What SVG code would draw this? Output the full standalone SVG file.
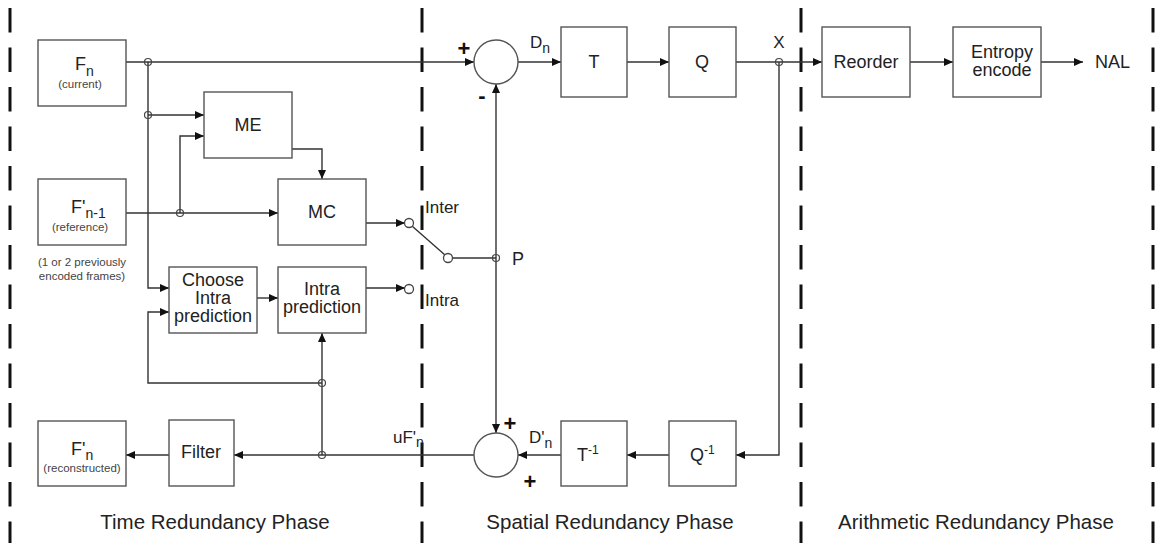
<svg xmlns="http://www.w3.org/2000/svg" width="1155" height="543" viewBox="0 0 1155 543">
<style>
text{font-family:"Liberation Sans",Arial,sans-serif;fill:#222}
.box{fill:#fff;stroke:#555;stroke-width:1.4}
.lbl{font-size:18px;text-anchor:middle}
.sm{font-size:11.5px;fill:#444;text-anchor:middle}
.sub{font-size:14px}
.ph{font-size:20.5px;text-anchor:middle}
.ln{fill:none;stroke:#333;stroke-width:1.4}
.ar{marker-end:url(#ah)}
.jn{fill:none;stroke:#444;stroke-width:1.2}
.sw{fill:#fff;stroke:#444;stroke-width:1.3}
.dash{stroke:#111;stroke-width:3;stroke-dasharray:24.5 15}
.sign{font-size:22px;font-weight:bold;fill:#111;text-anchor:middle}
</style>
<defs>
<marker id="ah" markerUnits="userSpaceOnUse" viewBox="0 0 9 8" markerWidth="9" markerHeight="8" refX="9" refY="4" orient="auto">
<path d="M0,0 L9,4 L0,8 z" fill="#111"/>
</marker>
</defs>
<rect width="1155" height="543" fill="#fff"/>
<g id="phases">
<line class="dash" x1="10" y1="8" x2="10" y2="543"/>
<line class="dash" x1="422" y1="8" x2="422" y2="543"/>
<line class="dash" x1="801" y1="8" x2="801" y2="543"/>
<line class="dash" x1="1153" y1="8" x2="1153" y2="543"/>
<text class="ph" x="215" y="529">Time Redundancy Phase</text>
<text class="ph" x="610" y="529">Spatial Redundancy Phase</text>
<text class="ph" x="976" y="529">Arithmetic Redundancy Phase</text>
</g>
<g id="connectors">
<path class="ln ar" d="M126,62 H474"/>
<path class="ln ar" d="M148,62 V288 H169"/>
<path class="ln ar" d="M148,115 H204"/>
<path class="ln ar" d="M126,213 H278"/>
<path class="ln ar" d="M180,213 V136 H204"/>
<path class="ln ar" d="M292,149 H322 V179"/>
<path class="ln ar" d="M366,223 H405"/>
<path class="ln ar" d="M366,288 H405"/>
<path class="ln ar" d="M257,298 H278"/>
<path class="ln" d="M412,226 L445,255"/>
<path class="ln" d="M452,258 H496"/>
<path class="ln ar" d="M496,258 V84"/>
<path class="ln ar" d="M496,258 V433"/>
<path class="ln ar" d="M518,62 H561"/>
<path class="ln ar" d="M627,62 H669"/>
<path class="ln ar" d="M736,62 H822"/>
<path class="ln ar" d="M779,62 V455 H736"/>
<path class="ln ar" d="M669,455 H627"/>
<path class="ln ar" d="M561,455 H518"/>
<path class="ln ar" d="M474,455 H234"/>
<path class="ln ar" d="M322,455 V333"/>
<path class="ln ar" d="M322,383 H148 V312 H169"/>
<path class="ln ar" d="M169,455 H126"/>
<path class="ln ar" d="M910,62 H953"/>
<path class="ln ar" d="M1041,62 H1083"/>
<circle class="jn" cx="148" cy="62" r="3.5"/>
<circle class="jn" cx="148" cy="115" r="3.5"/>
<circle class="jn" cx="180" cy="213" r="3.5"/>
<circle class="jn" cx="496" cy="258" r="3.5"/>
<circle class="jn" cx="779" cy="62" r="3.5"/>
<circle class="jn" cx="322" cy="455" r="3.5"/>
<circle class="jn" cx="322" cy="383" r="3.5"/>
<circle class="sw" cx="409" cy="223" r="4.5"/>
<circle class="sw" cx="409" cy="289" r="4.5"/>
<circle class="sw" cx="448" cy="258" r="4.5"/>
<text x="425" y="213" font-size="17">Inter</text>
<text x="425" y="306" font-size="17">Intra</text>
<text x="512" y="265" font-size="18">P</text>
<text x="530" y="48" font-size="17">D<tspan class="sub" dy="5">n</tspan></text>
<text x="779" y="48" font-size="17" text-anchor="middle">X</text>
<text x="529" y="443" font-size="17">D'<tspan class="sub" dy="5">n</tspan></text>
<text x="393" y="443" font-size="17">uF'<tspan class="sub" dy="4">n</tspan></text>
<text x="1095" y="68" font-size="18">NAL</text>
</g>
<g id="Fn">
<rect class="box" x="38" y="40" width="88" height="66"/>
<text x="75" y="70" font-size="18">F<tspan class="sub" dy="6">n</tspan></text>
<text class="sm" x="80" y="88">(current)</text>
</g>
<g id="Fn1">
<rect class="box" x="38" y="179" width="88" height="66"/>
<text x="71" y="213" font-size="18">F'<tspan class="sub" dy="5">n-1</tspan></text>
<text class="sm" x="80" y="231">(reference)</text>
<text class="sm" x="82" y="266">(1 or 2 previously</text>
<text class="sm" x="82" y="280">encoded frames)</text>
</g>
<g id="Fnr">
<rect class="box" x="38" y="421" width="88" height="65"/>
<text x="71" y="455" font-size="18">F'<tspan class="sub" dy="5">n</tspan></text>
<text class="sm" x="82" y="472">(reconstructed)</text>
</g>
<g id="ME">
<rect class="box" x="204" y="92" width="88" height="66"/>
<text class="lbl" x="248" y="131">ME</text>
</g>
<g id="MC">
<rect class="box" x="278" y="179" width="88" height="66"/>
<text class="lbl" x="322" y="218">MC</text>
</g>
<g id="Choose">
<rect class="box" x="169" y="267" width="88" height="66"/>
<text class="lbl" x="213" y="286">Choose</text>
<text class="lbl" x="213" y="304">Intra</text>
<text class="lbl" x="213" y="322">prediction</text>
</g>
<g id="IntraPred">
<rect class="box" x="278" y="267" width="88" height="66"/>
<text class="lbl" x="322" y="295">Intra</text>
<text class="lbl" x="322" y="313">prediction</text>
</g>
<g id="Filter">
<rect class="box" x="169" y="420" width="65" height="66"/>
<text class="lbl" x="201" y="458">Filter</text>
</g>
<g id="Sub">
<circle class="box" cx="496" cy="62" r="22"/>
<text class="sign" x="464" y="56">+</text>
<text class="sign" x="482" y="103">-</text>
</g>
<g id="Add">
<circle class="box" cx="496" cy="455" r="22"/>
<text class="sign" x="510" y="431">+</text>
<text class="sign" x="530" y="489">+</text>
</g>
<g id="T">
<rect class="box" x="561" y="27" width="66" height="70"/>
<text class="lbl" x="594" y="68">T</text>
</g>
<g id="Q">
<rect class="box" x="669" y="27" width="67" height="70"/>
<text class="lbl" x="702" y="68">Q</text>
</g>
<g id="Tinv">
<rect class="box" x="561" y="421" width="66" height="65"/>
<text x="577" y="461" font-size="18">T<tspan font-size="12" dy="-7">-1</tspan></text>
</g>
<g id="Qinv">
<rect class="box" x="669" y="421" width="67" height="65"/>
<text x="690" y="461" font-size="18">Q<tspan font-size="12" dy="-7">-1</tspan></text>
</g>
<g id="Reorder">
<rect class="box" x="822" y="27" width="88" height="70"/>
<text class="lbl" x="866" y="68">Reorder</text>
</g>
<g id="Entropy">
<rect class="box" x="953" y="27" width="88" height="70"/>
<text class="lbl" x="1002" y="58">Entropy</text>
<text class="lbl" x="1002" y="76">encode</text>
</g>
</svg>
